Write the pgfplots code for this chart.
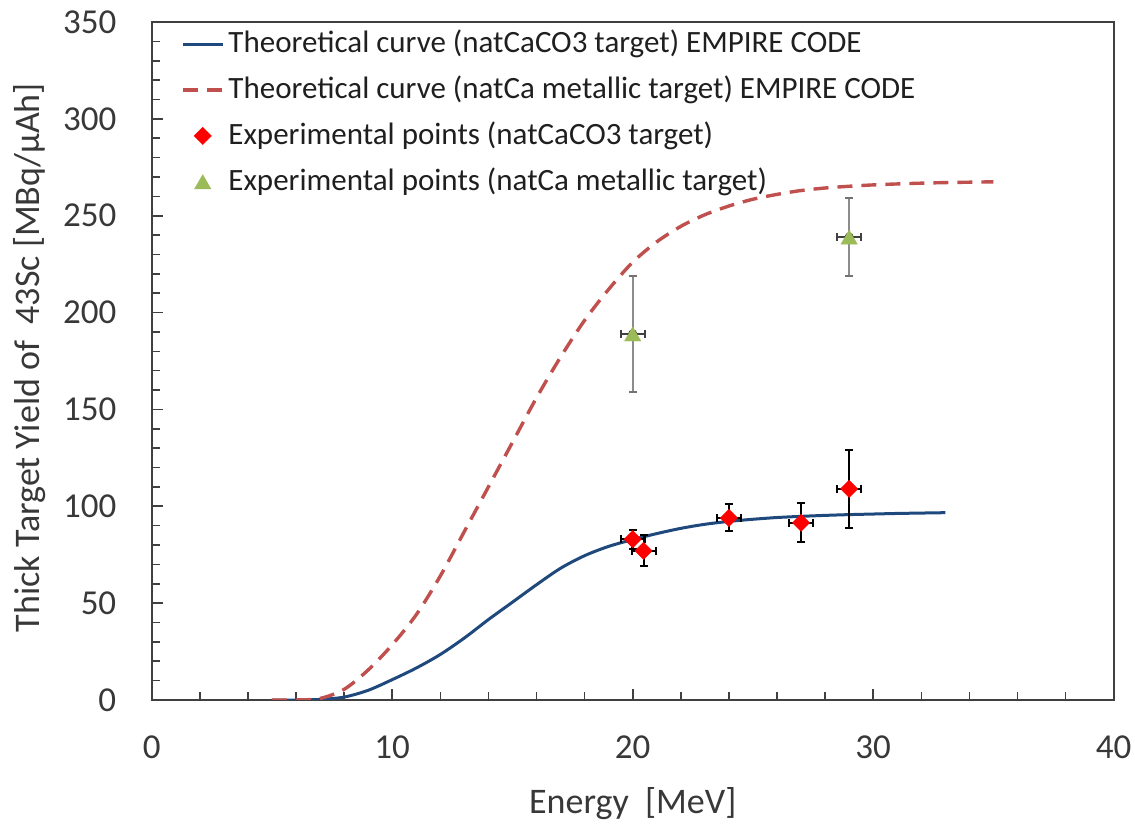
\documentclass[border=0pt]{standalone}
\usepackage{pgfplots}
\pgfplotsset{compat=1.18}
\usepackage{fontspec}
\setmainfont{Carlito}
\definecolor{navy}{HTML}{1F497D}
\definecolor{dred}{HTML}{C0504D}
\definecolor{olive}{HTML}{9BBB59}
\definecolor{axgray}{HTML}{404040}
\pgfplotsset{
  linelegend/.style={legend image code/.code={\path (0pt,0pt) (20pt,0pt); \draw[##1] (0pt,0.5pt) -- (20pt,0.5pt);}},
  marklegend/.style={legend image code/.code={\path (0pt,0pt) (20pt,0pt); \draw[##1] plot coordinates {(10pt,0.5pt)};}},
}
\begin{document}
\begin{tikzpicture}
\useasboundingbox (-75.85pt,-62pt) rectangle (491.65pt,350pt);
\begin{axis}[
  at={(0pt,0pt)}, anchor=south west,
  width=481pt, height=339pt, scale only axis,
  xmin=0, xmax=40, ymin=0, ymax=350,
  xtick={0,10,...,40}, ytick={0,50,...,350},
  minor x tick num=4, minor y tick num=4,
  tick pos=left, tick align=inside,
  major tick length=5.5pt, minor tick length=4pt,
  every tick/.style={axgray, line width=0.8pt},
  axis line style={axgray, line width=1pt},
  /pgf/number format/assume math mode=true,
  tick label style={font=\fontsize{17.5}{20}\selectfont, text=black!78},
  xticklabel style={yshift=-14.3pt},
  yticklabel style={xshift=-14.2pt},
  xlabel={Energy\ \ [MeV]},
  ylabel={Thick Target Yield of\ \ 43Sc [MBq/µAh]},
  every axis x label/.style={at={(axis description cs:0.5,0)}, anchor=base, yshift=-56.5pt, font=\fontsize{18}{21}\selectfont, text=black!78},
  every axis y label/.style={at={(axis description cs:-0.11684,0.505)}, rotate=90, anchor=base, font=\fontsize{18}{21}\selectfont, text=black!78},
  legend style={at={(axis description cs:0.0305,0.987)}, anchor=north west, draw=none, fill=none,
    inner sep=0pt, outer sep=0pt, font=\fontsize{15.5}{18}\selectfont, text=black!88,
    row sep=8.4pt, cells={anchor=west},
    nodes={inner xsep=2pt, inner ysep=0pt, text height=11pt, text depth=3.5pt}},
]
\addplot[navy, line width=1.5pt, smooth, linelegend]
coordinates {(5,0)(6,0)(7,0.3)(8,1.5)(9,5)(10,10.5)(11,16.5)(12,23.5)(13,32)(14,41.5)(15,50.5)(16,59.5)(17,68)(18,74.5)(19,79.3)(20,82.8)(21,85.9)(22,88.6)(23,90.7)(24,92.2)(25,93.3)(26,94.2)(27,94.8)(28,95.3)(29,95.7)(30,96)(31,96.3)(32,96.5)(33,96.7)};
\addlegendentry{Theoretical curve (natCaCO3 target) EMPIRE CODE}
\addplot[dred, line width=1.7pt, smooth, dash pattern=on 7.5pt off 4.5pt, linelegend]
coordinates {(5,0)(6,0)(7,0.8)(8,5.5)(9,15.5)(10,28.5)(11,44)(12,64)(13,87)(14,110)(15,133)(16,156)(17,177)(18,196)(19,212)(20,226)(21,236.5)(22,244.5)(23,250.5)(24,255)(25,258.5)(26,261)(27,263)(28,264.3)(29,265.2)(30,265.9)(31,266.4)(32,266.8)(33,267.1)(34,267.3)(35,267.5)};
\addlegendentry{Theoretical curve (natCa metallic target) EMPIRE CODE}
\addplot[only marks, mark=square*, mark size=3.1pt, color=red,
  mark options={rotate=45, fill=red, draw=red, line width=0.1pt}, marklegend,
  error bars/.cd, x dir=both, x explicit, y dir=both, y explicit,
  error bar style={draw=black, line width=1pt},
  error mark options={rotate=90, mark size=2pt, draw=black, line width=1pt}]
table[x=x, y=y, x error=ex, y error=ey] {
x y ex ey
20 83 0.5 5
20.45 77 0.5 8
24 94 0.5 7
27 91.5 0.5 10
29 109 0.5 20
};
\addlegendentry{Experimental points (natCaCO3 target)}
\addplot[forget plot, only marks, mark=none,
  error bars/.cd, y dir=both, y explicit,
  error bar style={draw=black!45, line width=1.2pt},
  error mark options={rotate=90, mark size=2pt, draw=black!55, line width=1.2pt}]
table[x=x, y=y, y error=ey] {
x y ey
20 189 30
29 239 20
};
\addplot[only marks, mark=triangle*, mark size=4.8pt, color=olive,
  mark options={fill=olive, draw=olive, line width=0.1pt, yshift=-1.2pt}, marklegend,
  error bars/.cd, x dir=both, x explicit,
  error bar style={draw=axgray, line width=1pt},
  error mark options={rotate=90, mark size=2pt, draw=axgray, line width=1pt}]
table[x=x, y=y, x error=ex] {
x y ex
20 189 0.5
29 239 0.5
};
\addlegendentry{Experimental points (natCa metallic target)}
\end{axis}
\end{tikzpicture}
\end{document}
